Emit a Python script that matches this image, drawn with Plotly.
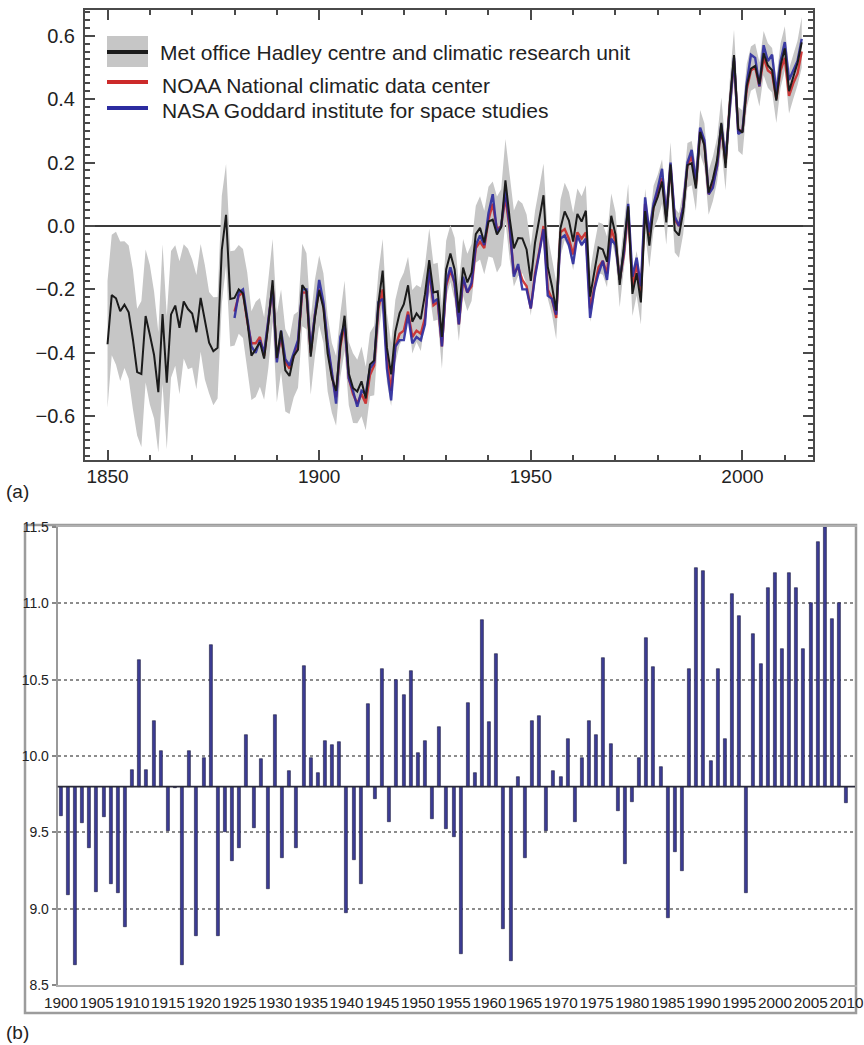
import plotly.graph_objects as go

W, H = 864, 1045

# ---------------- Panel (a) data ----------------
YEARS_HAD = list(range(1850, 2015))
HADCRUT = [
    -0.373, -0.218, -0.228, -0.269, -0.248, -0.272, -0.358, -0.461, -0.467, -0.284,
    -0.343, -0.407, -0.524, -0.278, -0.494, -0.279, -0.251, -0.321, -0.238, -0.262,
    -0.276, -0.335, -0.227, -0.304, -0.368, -0.395, -0.384, -0.075, 0.035, -0.230,
    -0.227, -0.200, -0.213, -0.296, -0.409, -0.389, -0.367, -0.418, -0.307, -0.171,
    -0.416, -0.330, -0.455, -0.473, -0.410, -0.390, -0.186, -0.206, -0.412, -0.289,
    -0.203, -0.259, -0.402, -0.479, -0.520, -0.377, -0.283, -0.465, -0.511, -0.522,
    -0.490, -0.544, -0.437, -0.424, -0.244, -0.141, -0.383, -0.468, -0.333, -0.275,
    -0.247, -0.187, -0.302, -0.276, -0.294, -0.215, -0.108, -0.210, -0.206, -0.350,
    -0.137, -0.087, -0.137, -0.273, -0.131, -0.178, -0.147, -0.026, -0.006, -0.052,
    0.014, 0.020, -0.027, -0.004, 0.144, 0.025, -0.071, -0.038, -0.039, -0.074,
    -0.173, -0.052, 0.028, 0.097, -0.129, -0.190, -0.267, -0.007, 0.046, 0.017,
    -0.049, 0.038, 0.014, 0.048, -0.223, -0.140, -0.068, -0.074, -0.113, 0.032,
    -0.027, -0.186, -0.065, 0.062, -0.214, -0.149, -0.241, 0.047, -0.062, 0.057,
    0.092, 0.140, 0.011, 0.194, -0.014, -0.030, 0.045, 0.192, 0.198, 0.118,
    0.296, 0.254, 0.105, 0.148, 0.208, 0.325, 0.183, 0.390, 0.539, 0.306,
    0.294, 0.441, 0.496, 0.505, 0.447, 0.545, 0.506, 0.491, 0.395, 0.506,
    0.560, 0.425, 0.470, 0.514, 0.579,
]
HADCRUT_UNC = [
    0.20, 0.19, 0.21, 0.22, 0.20, 0.21, 0.22, 0.20, 0.23, 0.21,
    0.22, 0.20, 0.19, 0.22, 0.21, 0.20, 0.19, 0.21, 0.18, 0.19,
    0.17, 0.18, 0.17, 0.18, 0.16, 0.17, 0.16, 0.17, 0.16, 0.15,
    0.15, 0.14, 0.14, 0.15, 0.14, 0.15, 0.14, 0.13, 0.14, 0.13,
    0.14, 0.13, 0.13, 0.12, 0.13, 0.12, 0.13, 0.12, 0.12, 0.12,
    0.11, 0.11, 0.12, 0.11, 0.11, 0.10, 0.11, 0.10, 0.11, 0.10,
    0.11, 0.10, 0.10, 0.11, 0.10, 0.10, 0.11, 0.10, 0.10, 0.10,
    0.10, 0.09, 0.10, 0.09, 0.10, 0.09, 0.10, 0.09, 0.09, 0.10,
    0.09, 0.09, 0.10, 0.09, 0.09, 0.09, 0.09, 0.09, 0.10, 0.10,
    0.11, 0.12, 0.12, 0.12, 0.13, 0.13, 0.12, 0.12, 0.11, 0.11,
    0.11, 0.10, 0.10, 0.10, 0.10, 0.09, 0.09, 0.09, 0.09, 0.09,
    0.09, 0.08, 0.08, 0.08, 0.08, 0.08, 0.08, 0.08, 0.08, 0.07,
    0.07, 0.07, 0.07, 0.07, 0.07, 0.07, 0.07, 0.07, 0.07, 0.07,
    0.07, 0.07, 0.07, 0.07, 0.07, 0.07, 0.07, 0.07, 0.07, 0.07,
    0.07, 0.07, 0.07, 0.07, 0.07, 0.08, 0.07, 0.07, 0.08, 0.07,
    0.07, 0.07, 0.07, 0.07, 0.07, 0.07, 0.07, 0.07, 0.07, 0.07,
    0.07, 0.07, 0.07, 0.07, 0.08,
]
YEARS_GLOBAL = list(range(1880, 2015))
NOAA = [
    -0.27, -0.22, -0.21, -0.30, -0.37, -0.37, -0.35, -0.41, -0.30, -0.19,
    -0.42, -0.35, -0.43, -0.45, -0.41, -0.37, -0.21, -0.21, -0.40, -0.28,
    -0.20, -0.25, -0.38, -0.47, -0.54, -0.38, -0.31, -0.48, -0.53, -0.56,
    -0.53, -0.56, -0.47, -0.44, -0.26, -0.20, -0.42, -0.52, -0.38, -0.34,
    -0.33, -0.27, -0.35, -0.33, -0.34, -0.29, -0.14, -0.25, -0.24, -0.38,
    -0.19, -0.14, -0.18, -0.31, -0.17, -0.21, -0.19, -0.07, -0.05, -0.07,
    0.02, 0.07, -0.01, 0.00, 0.09, -0.01, -0.15, -0.13, -0.17, -0.19,
    -0.26, -0.15, -0.08, 0.00, -0.20, -0.23, -0.29, -0.02, -0.01, -0.04,
    -0.09, -0.02, -0.04, -0.02, -0.26, -0.19, -0.13, -0.11, -0.15, -0.01,
    -0.05, -0.17, -0.09, 0.05, -0.19, -0.12, -0.21, 0.07, -0.03, 0.06,
    0.11, 0.15, 0.03, 0.19, 0.02, 0.00, 0.06, 0.19, 0.22, 0.13,
    0.30, 0.26, 0.10, 0.13, 0.19, 0.31, 0.20, 0.38, 0.52, 0.30,
    0.30, 0.43, 0.49, 0.50, 0.44, 0.53, 0.49, 0.48, 0.40, 0.49,
    0.53, 0.41, 0.45, 0.48, 0.55,
]
NASA = [
    -0.29, -0.21, -0.20, -0.29, -0.38, -0.40, -0.36, -0.40, -0.29, -0.19,
    -0.43, -0.33, -0.42, -0.44, -0.40, -0.36, -0.20, -0.20, -0.39, -0.28,
    -0.17, -0.24, -0.37, -0.46, -0.56, -0.35, -0.31, -0.48, -0.52, -0.57,
    -0.52, -0.53, -0.45, -0.43, -0.24, -0.23, -0.45, -0.55, -0.38, -0.36,
    -0.36, -0.28, -0.37, -0.35, -0.36, -0.31, -0.13, -0.24, -0.23, -0.38,
    -0.18, -0.13, -0.18, -0.31, -0.16, -0.21, -0.18, -0.06, -0.03, -0.06,
    0.04, 0.10, -0.02, 0.00, 0.11, 0.00, -0.16, -0.12, -0.20, -0.20,
    -0.26, -0.16, -0.08, -0.01, -0.22, -0.23, -0.28, -0.04, -0.03, -0.06,
    -0.12, -0.03, -0.06, -0.04, -0.29, -0.20, -0.15, -0.11, -0.17, -0.04,
    -0.06, -0.17, -0.08, 0.07, -0.16, -0.10, -0.19, 0.09, -0.02, 0.07,
    0.12, 0.18, 0.03, 0.20, 0.03, 0.00, 0.06, 0.20, 0.24, 0.14,
    0.31, 0.27, 0.10, 0.12, 0.19, 0.32, 0.21, 0.36, 0.53, 0.29,
    0.30, 0.45, 0.54, 0.53, 0.44, 0.57, 0.52, 0.54, 0.42, 0.52,
    0.58, 0.46, 0.49, 0.52, 0.59,
]
A_XTICKS = [1850, 1900, 1950, 2000]
A_YTICKS = [-0.6, -0.4, -0.2, 0.0, 0.2, 0.4, 0.6]
A_YLABELS = ["\u22120.6", "\u22120.4", "\u22120.2", "0.0", "0.2", "0.4", "0.6"]
LEGEND_LABELS = [
    "Met office Hadley centre and climatic research unit",
    "NOAA National climatic data center",
    "NASA Goddard institute for space studies",
]

# ---------------- Panel (b) data ----------------
BASELINE = 9.8
YEARS_B = list(range(1900, 2011))
TEMP_B = [
    9.61, 9.09, 8.63, 9.56, 9.40, 9.11, 9.60, 9.16, 9.10, 8.88,
    9.91, 10.63, 9.91, 10.23, 10.03, 9.51, 9.79, 8.63, 10.03, 8.82,
    9.99, 10.73, 8.82, 9.50, 9.31, 9.40, 10.14, 9.53, 9.98, 9.13,
    10.27, 9.33, 9.90, 9.40, 10.59, 9.99, 9.89, 10.10, 10.07, 10.09,
    8.97, 9.32, 9.16, 10.34, 9.72, 10.57, 9.57, 10.50, 10.40, 10.56,
    10.02, 10.10, 9.59, 10.19, 9.52, 9.47, 8.70, 10.35, 9.89, 10.89,
    10.22, 10.67, 8.87, 8.66, 9.86, 9.33, 10.23, 10.26, 9.51, 9.90,
    9.86, 10.11, 9.57, 9.99, 10.23, 10.14, 10.64, 10.08, 9.64, 9.29,
    9.70, 9.99, 10.77, 10.58, 9.93, 8.94, 9.37, 9.25, 10.57, 11.23,
    11.21, 9.97, 10.57, 10.11, 11.06, 10.92, 9.10, 10.80, 10.60, 11.10,
    11.20, 10.70, 11.20, 11.10, 10.70, 11.00, 11.40, 11.50, 10.90, 11.00,
    9.69,
]
B_XTICKS = list(range(1900, 2011, 5))
B_XLABELS = [str(v) for v in B_XTICKS]
B_YTICKS = [8.5, 9.0, 9.5, 10.0, 10.5, 11.0, 11.5]
B_YLABELS = ["8.5", "9.0", "9.5", "10.0", "10.5", "11.0", "11.5"]


def px(x):
    return x / W


def py(y):
    return 1 - y / H


FONT = "Liberation Sans, Arial, Helvetica, sans-serif"
GRAY_BAND = "#c6c6c6"
BLACK = "#1b1b1b"
RED = "#cc2a2a"
BLUE = "#2c2ca0"

fig = go.Figure()

upper = [v + u for v, u in zip(HADCRUT, HADCRUT_UNC)]
lower = [v - u for v, u in zip(HADCRUT, HADCRUT_UNC)]
fig.add_trace(go.Scatter(x=YEARS_HAD, y=upper, mode="lines", line=dict(width=0),
                         showlegend=False, hoverinfo="skip", xaxis="x", yaxis="y"))
fig.add_trace(go.Scatter(x=YEARS_HAD, y=lower, mode="lines", line=dict(width=0),
                         fill="tonexty", fillcolor=GRAY_BAND, showlegend=False,
                         hoverinfo="skip", xaxis="x", yaxis="y"))
fig.add_trace(go.Scatter(x=YEARS_GLOBAL, y=NOAA, mode="lines", name=LEGEND_LABELS[1],
                         line=dict(color=RED, width=2.4), opacity=0.9,
                         showlegend=False, xaxis="x", yaxis="y"))
fig.add_trace(go.Scatter(x=YEARS_GLOBAL, y=NASA, mode="lines", name=LEGEND_LABELS[2],
                         line=dict(color=BLUE, width=2.4), opacity=0.9,
                         showlegend=False, xaxis="x", yaxis="y"))
fig.add_trace(go.Scatter(x=YEARS_HAD, y=HADCRUT, mode="lines", name=LEGEND_LABELS[0],
                         line=dict(color=BLACK, width=2.0),
                         showlegend=False, xaxis="x", yaxis="y"))

fig.add_trace(go.Bar(x=YEARS_B, y=[v - BASELINE for v in TEMP_B], base=BASELINE,
                     width=0.42, marker=dict(color="#3c3c94",
                                             line=dict(color="#1d1d40", width=0.6)),
                     showlegend=False, xaxis="x2", yaxis="y2"))

AXC = "#4a4a4a"
layout = dict(
    width=W, height=H,
    margin=dict(l=0, r=0, t=0, b=0, autoexpand=False),
    paper_bgcolor="white", plot_bgcolor="white",
    font=dict(family=FONT, color="#222"),
    bargap=0,
    xaxis=dict(domain=[px(85), px(813)], range=[1844.68, 2016.66], anchor="y",
               automargin=False,
               tickvals=A_XTICKS, ticktext=[str(v) for v in A_XTICKS],
               ticks="inside", ticklen=10, tickwidth=2, tickcolor=AXC,
               minor=dict(dtick=10, tick0=1850, ticks="inside", ticklen=5,
                          tickwidth=1.5, tickcolor=AXC),
               showline=True, linecolor=AXC, linewidth=2, mirror="ticks",
               showgrid=False, zeroline=False, tickfont=dict(size=19),
               ticklabelstandoff=-2),
    yaxis=dict(domain=[py(460), py(10)], range=[-0.738, 0.681], anchor="x",
               automargin=False,
               tickvals=A_YTICKS, ticktext=A_YLABELS,
               ticks="inside", ticklen=10, tickwidth=2, tickcolor=AXC,
               minor=dict(dtick=0.025, tick0=0, ticks="inside", ticklen=5,
                          tickwidth=1.5, tickcolor=AXC),
               showline=True, linecolor=AXC, linewidth=2, mirror="ticks",
               showgrid=False, zeroline=True, zerolinecolor="#3a3a3a",
               zerolinewidth=2, tickfont=dict(size=20), ticklabelstandoff=4),
    xaxis2=dict(domain=[px(57.7), px(855)], range=[1899.54, 2011.2], anchor="y2",
                automargin=False,
                tickvals=B_XTICKS, ticktext=B_XLABELS, ticks="", tickangle=0,
                showline=True, linecolor="#b0b0b0", linewidth=2, mirror=True,
                showgrid=False, zeroline=False,
                tickfont=dict(size=15.3, color="#222"), ticklabelstandoff=3),
    yaxis2=dict(domain=[py(985), py(527)], range=[8.5, 11.5], anchor="x2",
                automargin=False,
                tickvals=B_YTICKS, ticktext=B_YLABELS,
                ticks="outside", ticklen=4, tickcolor="#888", tickwidth=1.5,
                showline=True, linecolor="#9a9a9a", linewidth=2, mirror=True,
                showgrid=True, gridcolor="#8c8c8c", gridwidth=1.5, griddash="dot",
                zeroline=False, tickfont=dict(size=14, color="#222")),
)

shapes = [
    # outer frame of panel (b)
    dict(type="rect", xref="paper", yref="paper", x0=px(25), x1=px(856),
         y0=py(1013), y1=py(525), line=dict(color="#9c9c9c", width=2.5),
         fillcolor="rgba(0,0,0,0)", layer="below"),
    # baseline of panel (b)
    dict(type="line", xref="x2 domain", yref="y2", x0=0, x1=1, y0=BASELINE,
         y1=BASELINE, line=dict(color="#2a2a3a", width=1.8)),
    # legend samples of panel (a)
    dict(type="rect", xref="paper", yref="paper", x0=px(107), x1=px(148),
         y0=py(67), y1=py(36), fillcolor=GRAY_BAND, line=dict(width=0)),
    dict(type="line", xref="paper", yref="paper", x0=px(107), x1=px(148),
         y0=py(52), y1=py(52), line=dict(color=BLACK, width=4)),
    dict(type="line", xref="paper", yref="paper", x0=px(107), x1=px(148),
         y0=py(82), y1=py(82), line=dict(color=RED, width=4)),
    dict(type="line", xref="paper", yref="paper", x0=px(107), x1=px(148),
         y0=py(108), y1=py(108), line=dict(color=BLUE, width=4)),
]

annotations = [
    dict(text=LEGEND_LABELS[0], x=px(158), y=py(53), xref="paper", yref="paper",
         xanchor="left", yanchor="middle", showarrow=False, font=dict(size=21)),
    dict(text=LEGEND_LABELS[1], x=px(160), y=py(86), xref="paper", yref="paper",
         xanchor="left", yanchor="middle", showarrow=False, font=dict(size=21)),
    dict(text=LEGEND_LABELS[2], x=px(160), y=py(111), xref="paper", yref="paper",
         xanchor="left", yanchor="middle", showarrow=False, font=dict(size=21)),
    dict(text="(a)", x=px(4), y=py(491), xref="paper", yref="paper",
         xanchor="left", yanchor="middle", showarrow=False, font=dict(size=19)),
    dict(text="(b)", x=px(4), y=py(1032), xref="paper", yref="paper",
         xanchor="left", yanchor="middle", showarrow=False, font=dict(size=19)),
]

fig.update_layout(**layout, shapes=shapes, annotations=annotations)
fig.write_html(
    "out.html",
    config={"displayModeBar": False},
    post_script="document.body.style.margin='0';document.body.style.overflow='hidden';",
)
